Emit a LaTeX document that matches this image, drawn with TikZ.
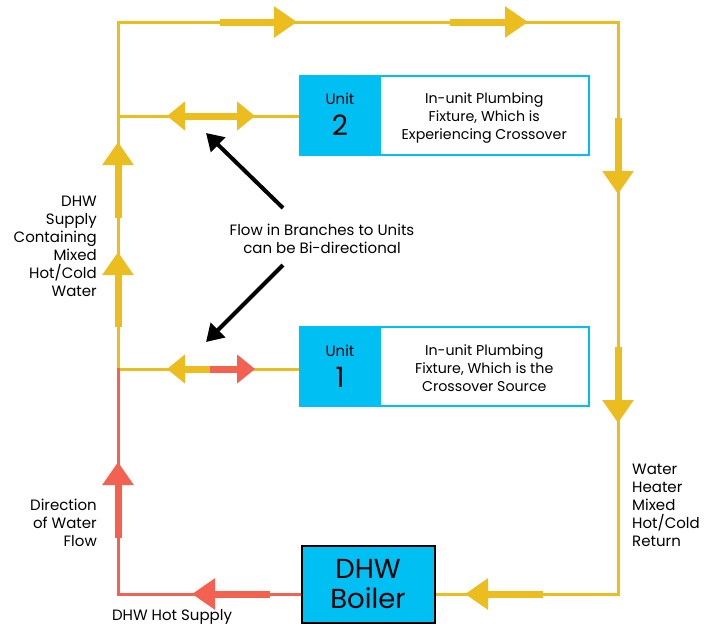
\documentclass[tikz,border=0pt]{standalone}
\usepackage{fontspec}
\setmainfont{Poppins}
\usetikzlibrary{arrows.meta}
\definecolor{pipeY}{HTML}{EBBD1E}
\definecolor{pipeR}{HTML}{F36251}
\definecolor{unitC}{HTML}{00BFF3}
\begin{document}
\begin{tikzpicture}[x=1pt,y=-1pt,
  pipe/.style={line width=3pt},
  flow/.style={line width=7pt,-{Triangle[length=23pt,width=30pt]}},
  flowboth/.style={line width=7pt,{Triangle[length=18pt,width=28pt]}-{Triangle[length=18pt,width=28pt]}},
  flowhalf/.style={line width=7pt,-{Triangle[length=18pt,width=28pt]}},
  lbl/.style={font=\fontsize{15}{18}\selectfont, inner sep=0pt},
  unitbox/.style={fill=unitC, draw=unitC, line width=1.5pt, minimum width=78pt, minimum height=79pt, inner sep=0pt},
  fixbox/.style={fill=white, draw=unitC, line width=2pt, minimum width=209pt, minimum height=79pt, inner sep=0pt},
  fixtext/.style={inner sep=0pt, align=center, font=\fontsize{14.2}{18}\selectfont},
  pointer/.style={line width=4pt, -{Triangle[length=17pt,width=20pt]}}
]
\useasboundingbox (0,0) rectangle (715,627);

% boxes
\node[unitbox] (u2) at (339,115.5) {};
\node[fixbox, anchor=west] (f2) at (u2.east) {};
\node[fixtext] (f2t) at ([yshift=-2.5pt]f2.center) {In-unit Plumbing\\Fixture, Which is\\Experiencing Crossover};
\node[font=\fontsize{15}{16}\selectfont, inner sep=0pt] (u2a) at (340,99) {Unit};
\node[font=\fontsize{28}{30}\selectfont, inner sep=0pt] (u2b) at (340,125) {2};

\node[unitbox] (u1) at (339,366.5) {};
\node[fixbox, anchor=west] (f1) at (u1.east) {};
\node[fixtext] (f1t) at ([yshift=-2pt]f1.center) {In-unit Plumbing\\Fixture, Which is the\\Crossover Source};
\node[font=\fontsize{15}{16}\selectfont, inner sep=0pt] (u1a) at (340,351) {Unit};
\node[font=\fontsize{28}{30}\selectfont, inner sep=0pt] (u1b) at (340,377) {1};

\node[fill=unitC, draw=black, line width=2pt, minimum width=133pt, minimum height=77pt, inner sep=0pt, align=center, font=\fontsize{27.5}{30}\selectfont] (boiler) at (368,584) {DHW\\Boiler};

% pipe coordinates
\coordinate (tl) at (118,22);
\coordinate (tr) at (618,22);
\coordinate (br) at (618,594);
\coordinate (bl) at (118,594);
\coordinate (j2) at (118,116);
\coordinate (j1) at (118,369);
\coordinate (bw) at (boiler.west |- br);
\coordinate (be) at (boiler.east |- br);

% pipes
\draw[pipe, pipeY, line join=miter] (be) -- (br) -- (tr) -- (tl) -- (j1);
\draw[pipe, pipeY] (j2) -- (u2.west |- j2);
\draw[pipe, pipeY] (j1) -- (u1.west |- j1);
\draw[pipe, pipeR, line join=miter] (118,367.5) -- (bl) -- (bw);

% flow arrows on loop
\draw[flow, pipeY] (220,22) -- (297,22);
\draw[flow, pipeY] (450,22) -- (528,22);
\draw[flow, pipeY] (618,118) -- (618,194);
\draw[flow, pipeY] (618,347) -- (618,423);
\draw[flow, pipeY] (118,218) -- (118,142);
\draw[flow, pipeY] (118,327) -- (118,252);
\draw[flow, pipeR] (118,538) -- (118,462);
\draw[flow, pipeR] (270,594) -- (192,594);
\draw[flow, pipeY] (543,594) -- (465,594);

% branch arrows
\draw[flowboth, pipeY] (167,116) -- (255,116);
\draw[flowhalf, pipeY] (212,369) -- (167,369);
\draw[flowhalf, pipeR] (210,369) -- (255,369);

% labels
\node[lbl, align=right, anchor=east] (supply) at (97,246) {DHW\\Supply\\Containing\\Mixed\\Hot/Cold\\Water};
\node[lbl, align=right, anchor=east] (dir) at (97,523) {Direction\\of Water\\Flow};
\node[lbl] (hot) at (172,617) {DHW Hot Supply};
\node[lbl, align=left, anchor=west] (ret) at (632,505) {Water\\Heater\\Mixed\\Hot/Cold\\Return};
\node[lbl, align=center] (note) at (322,239) {Flow in Branches to Units\\can be Bi-directional};

% pointers
\coordinate (p2s) at (283,208);
\coordinate (p2e) at (206,133);
\coordinate (p1s) at (283,265);
\coordinate (p1e) at (206,342);
\draw[pointer] (p2s) -- (p2e);
\draw[pointer] (p1s) -- (p1e);
\end{tikzpicture}
\end{document}
